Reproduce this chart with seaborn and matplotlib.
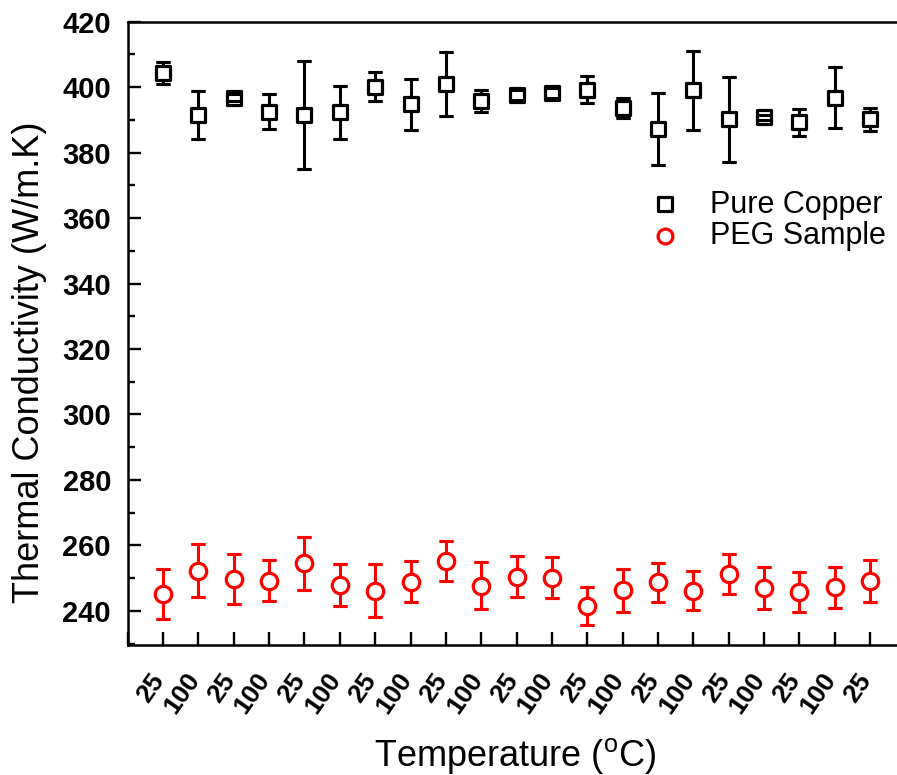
import matplotlib
matplotlib.use("Agg")
import matplotlib.pyplot as plt
import matplotlib.transforms as mtransforms
from matplotlib.ticker import MultipleLocator
import seaborn as sns
import numpy as np

# data (21 runs, alternating 25 / 100 C)
temp_labels = ["25", "100"] * 10 + ["25"]
run = np.arange(1, 22)

copper_k = [404.2, 391.4, 396.8, 392.5, 391.6, 392.3, 400.1, 394.8, 400.9, 395.8, 397.5,
            398.1, 399.2, 393.6, 387.2, 399.0, 390.1, 390.7, 389.2, 396.8, 390.1]
copper_err = [3.4, 7.4, 1.0, 5.3, 16.5, 8.1, 4.4, 7.8, 9.7, 3.4, 1.5,
              1.5, 4.1, 3.2, 11.0, 12.0, 13.1, 0.8, 4.0, 9.2, 3.4]

peg_k = [245.2, 252.3, 249.8, 249.2, 254.5, 248.0, 246.2, 248.9, 255.3, 247.7, 250.5,
         250.2, 241.5, 246.3, 248.7, 246.2, 251.3, 247.0, 245.7, 247.2, 249.2]
peg_err = [7.7, 8.1, 7.6, 6.3, 8.2, 6.4, 8.0, 6.3, 6.2, 7.2, 6.2,
           6.2, 5.9, 6.5, 6.1, 6.0, 6.2, 6.3, 6.1, 6.3, 6.4]

sns.set_theme(style="ticks")
plt.rcParams["font.family"] = ["Liberation Sans", "DejaVu Sans"]
plt.rcParams["mathtext.fontset"] = "custom"
plt.rcParams["mathtext.rm"] = "Liberation Sans"
plt.rcParams["text.color"] = "black"
plt.rcParams["axes.labelcolor"] = "black"
plt.rcParams["xtick.color"] = "black"
plt.rcParams["ytick.color"] = "black"

fig = plt.figure(figsize=(8.97, 7.75), dpi=100)
ax = fig.add_axes([0.1424, 0.1677, 0.8670, 0.8045])

# error bars under the hollow markers
for y, e, c in [(copper_k, copper_err, "black"), (peg_k, peg_err, "red")]:
    ax.errorbar(run, y, yerr=e, fmt="none", ecolor=c, elinewidth=2.2,
                capsize=5.3, capthick=2.2, zorder=2)

sns.scatterplot(x=run, y=copper_k, marker="s", s=115, facecolor="white",
                edgecolor="black", linewidth=2.3, label="Pure Copper", ax=ax, zorder=3)
sns.scatterplot(x=run, y=peg_k, marker="o", s=140, facecolor="white",
                edgecolor="red", linewidth=2.3, label="PEG Sample", ax=ax, zorder=3)

# caps drawn again on top so tiny bars still show
for y, e, c in [(copper_k, copper_err, "black"), (peg_k, peg_err, "red")]:
    ax.errorbar(run, y, yerr=e, fmt="none", ecolor=c, elinewidth=0,
                capsize=5.3, capthick=2.2, zorder=4)

ax.set_xlim(0, 22)
ax.set_ylim(229.6, 420)
ax.set_xticks(np.arange(0, 23))
ax.set_xticklabels([""] + temp_labels + [""])
ax.yaxis.set_major_locator(MultipleLocator(20))
ax.yaxis.set_minor_locator(MultipleLocator(10))

for s in ax.spines.values():
    s.set_linewidth(1.8)
    s.set_color("black")

ax.tick_params(axis="both", which="major", direction="in", length=9.5, width=1.7,
               color="black")
ax.tick_params(axis="y", which="minor", direction="in", length=5, width=1.7,
               color="black")
ax.tick_params(axis="y", which="major", labelsize=21, pad=12)
ax.tick_params(axis="x", which="major", labelsize=19, pad=17)
ax.tick_params(top=False, right=False, which="both")

for lab in ax.get_yticklabels():
    lab.set_fontweight("bold")
shift = mtransforms.ScaledTranslation(6 / 100, 0, fig.dpi_scale_trans)
for lab in ax.get_xticklabels():
    lab.set_fontweight("bold")
    lab.set_rotation(55)
    lab.set_ha("right")
    lab.set_va("top")
    lab.set_transform(lab.get_transform() + shift)

ax.set_ylabel("Thermal Conductivity (W/m.K)", fontsize=26)
ax.set_xlabel("Temperature ($^\\mathregular{o}$C)", fontsize=26)
ax.yaxis.set_label_coords(-0.104, 0.454)
ax.xaxis.set_label_coords(0.498, -0.146)

ax.legend(loc="upper left", bbox_to_anchor=(649.7 / 897, 1 - 189.5 / 775),
          bbox_transform=fig.transFigure, frameon=False, fontsize=22,
          handlelength=1.0, handletextpad=0.97, labelspacing=0.05,
          borderpad=0, borderaxespad=0, markerscale=0.9)

fig.savefig("out.png", dpi=100)
